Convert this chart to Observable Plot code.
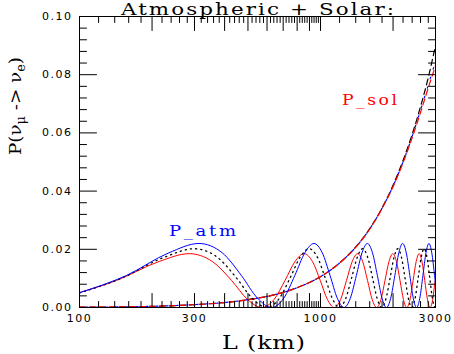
<!DOCTYPE html>
<html>
<head>
<meta charset="utf-8">
<script src="https://cdn.jsdelivr.net/npm/d3@7"></script>
<script src="https://cdn.jsdelivr.net/npm/@observablehq/plot@0.6"></script>
<style>
  html, body { margin: 0; padding: 0; background: #fff; }
  #chart { width: 454px; height: 354px; }
</style>
</head>
<body>
<div id="chart"></div>
<script>
// ---- Data ----
// Atmospheric oscillation curves, three parameter choices (red solid, black dotted, blue solid)
const redL = [100, 142.5, 214, 285, 356, 427.5, 499, 570,
  641, 712.5, 784, 855, 926, 997.5, 1069, 1140,
  1211, 1282, 1354, 1425, 1496, 1567, 1639, 1710,
  1781, 1852, 1924, 1995, 2066, 2137, 2209, 2280,
  2351, 2422, 2494, 2565, 2636, 2707, 2779, 2850,
  2921, 2992, 3000];
const redP = [0.0051, 0.0093, 0.0158, 0.0185, 0.0158, 0.0093, 0.0027, 0,
  0.0027, 0.0093, 0.0158, 0.0185, 0.0158, 0.0093, 0.0027, 0,
  0.0027, 0.0093, 0.0158, 0.0185, 0.0158, 0.0093, 0.0027, 0,
  0.0027, 0.0093, 0.0158, 0.0185, 0.0158, 0.0093, 0.0027, 0,
  0.0027, 0.0093, 0.0158, 0.0185, 0.0158, 0.0093, 0.0027, 0,
  0.0027, 0.0093, 0.0098];

const dotL = [100, 149.5, 224, 299, 374, 448.5, 523, 598,
  673, 747.5, 822, 897, 972, 1046.5, 1121, 1196,
  1271, 1345.5, 1420, 1495, 1570, 1644.5, 1719, 1794,
  1869, 1943.5, 2018, 2093, 2168, 2242.5, 2317, 2392,
  2467, 2541.5, 2616, 2691, 2766, 2840.5, 2915, 2990,
  3000];
const dotP = [0.0050, 0.0101, 0.0172, 0.0202, 0.0172, 0.0101, 0.0030, 0,
  0.0030, 0.0101, 0.0172, 0.0202, 0.0172, 0.0101, 0.0030, 0,
  0.0030, 0.0101, 0.0172, 0.0202, 0.0172, 0.0101, 0.0030, 0,
  0.0030, 0.0101, 0.0172, 0.0202, 0.0172, 0.0101, 0.0030, 0,
  0.0030, 0.0101, 0.0172, 0.0202, 0.0172, 0.0101, 0.0030, 0,
  0.0001];

const blueL = [100, 156.5, 235, 313, 391, 469.5, 548, 626,
  704, 782.5, 861, 939, 1017, 1095.5, 1174, 1252,
  1330, 1408.5, 1487, 1565, 1643, 1721.5, 1800, 1878,
  1956, 2034.5, 2113, 2191, 2269, 2347.5, 2426, 2504,
  2582, 2660.5, 2739, 2817, 2895, 2973.5, 3000];
const blueP = [0.0051, 0.0110, 0.0188, 0.0220, 0.0188, 0.0110, 0.0032, 0,
  0.0032, 0.0110, 0.0188, 0.0220, 0.0188, 0.0110, 0.0032, 0,
  0.0032, 0.0110, 0.0188, 0.0220, 0.0188, 0.0110, 0.0032, 0,
  0.0032, 0.0110, 0.0188, 0.0220, 0.0188, 0.0110, 0.0032, 0,
  0.0032, 0.0110, 0.0188, 0.0220, 0.0188, 0.0110, 0.0081];

// Solar curves (dashed black, dashed red, dotted blue)
const solL = [100, 200, 300, 400, 500, 600, 700, 800, 900, 1000,
  1200, 1400, 1600, 1800, 2000, 2200, 2400, 2600, 2800, 3000];
const solBlackP = [0.0001, 0.0004, 0.0010, 0.0017, 0.0027, 0.0038, 0.0052, 0.0068, 0.0086, 0.0106,
  0.0153, 0.0208, 0.0271, 0.0342, 0.0420, 0.0505, 0.0595, 0.0690, 0.0790, 0.0900];
const solRedP = [0.0001, 0.0004, 0.0010, 0.0017, 0.0027, 0.0038, 0.0052, 0.0068, 0.0086, 0.0106,
  0.0153, 0.0207, 0.0269, 0.0340, 0.0415, 0.0497, 0.0583, 0.0670, 0.0755, 0.0830];
const solBlueP = [0.0001, 0.0004, 0.0010, 0.0017, 0.0027, 0.0038, 0.0052, 0.0068, 0.0086, 0.0106,
  0.0153, 0.0207, 0.0270, 0.0341, 0.0417, 0.0500, 0.0588, 0.0678, 0.0765, 0.0845];

// Axis ticks and labels
const xDomain = [100, 3000];
const yDomain = [0, 0.1];
const xTickLabels = [100, 300, 1000, 3000];
const xMajorTicks = [200, 300, 400, 500, 600, 700, 800, 900, 1000, 2000];
const xMinorTicks = [120, 140, 160, 180, 220, 240, 260, 280, 320, 340, 360, 380,
  420, 440, 460, 480, 520, 540, 560, 580, 620, 640, 660, 680, 720, 740, 760, 780,
  820, 840, 860, 880, 920, 940, 960, 980, 1200, 1400, 1600, 1800, 2200, 2400, 2600, 2800];
const yTickLabels = [0, 0.02, 0.04, 0.06, 0.08, 0.10];
const yMajorTicks = [0.02, 0.04, 0.06, 0.08];
const yMinorTicks = [0.004, 0.008, 0.012, 0.016, 0.024, 0.028, 0.032, 0.036,
  0.044, 0.048, 0.052, 0.056, 0.064, 0.068, 0.072, 0.076, 0.084, 0.088, 0.092, 0.096];

const titleText = "Atmospheric + Solar:";
const xLabelText = "L (km)";
const yLabelText = "P(nu_mu -> nu_e)";
const atmLabel = {L: 324, P: 0.0246, text: "P_atm"};
const solLabel = {L: 1597, P: 0.0697, text: "P_sol"};

// ---- Build tables ----
const zip = (L, P) => L.map((l, i) => ({L: l, P: P[i]}));
const red = zip(redL, redP), dot = zip(dotL, dotP), blue = zip(blueL, blueP);
const solBlack = zip(solL, solBlackP), solRed = zip(solL, solRedP), solBlue = zip(solL, solBlueP);

const W = 454, H = 354, mL = 79, mR = 19, mT = 16, mB = 47;
const pw = W - mL - mR, ph = H - mT - mB;
const serif = "DejaVu Serif";

// Inward tick segments (pixel lengths converted to scale units), drawn as Plot lines
const yPerPx = (yDomain[1] - yDomain[0]) / ph;
const xFac = px => Math.pow(xDomain[1] / xDomain[0], px / pw);
const tickSeg = [];
function addX(vals, px, tag) {
  vals.forEach((v, i) => {
    tickSeg.push({id: tag + "b" + i, x: v, y: yDomain[0]}, {id: tag + "b" + i, x: v, y: yDomain[0] + px * yPerPx});
    tickSeg.push({id: tag + "t" + i, x: v, y: yDomain[1]}, {id: tag + "t" + i, x: v, y: yDomain[1] - px * yPerPx});
  });
}
function addY(vals, px, tag) {
  vals.forEach((v, i) => {
    tickSeg.push({id: tag + "l" + i, x: xDomain[0], y: v}, {id: tag + "l" + i, x: xDomain[0] * xFac(px), y: v});
    tickSeg.push({id: tag + "r" + i, x: xDomain[1], y: v}, {id: tag + "r" + i, x: xDomain[1] / xFac(px), y: v});
  });
}
addX(xMajorTicks, 14, "xM"); addX(xMinorTicks, 6, "xm");
addY(yMajorTicks, 17, "yM"); addY(yMinorTicks, 7, "ym");

const svg = Plot.plot({
  width: W, height: H,
  marginLeft: mL, marginRight: mR, marginTop: mT, marginBottom: mB,
  x: {type: "log", domain: xDomain},
  y: {domain: yDomain},
  style: {fontFamily: "DejaVu Sans", fontSize: "11px", background: "#fff", color: "#000"},
  marks: [
    Plot.axisX({ticks: xTickLabels, tickFormat: d => String(d), tickSize: 0, tickPadding: 7, label: null}),
    Plot.axisY({ticks: yTickLabels, tickFormat: d => d.toFixed(2), tickSize: 0, tickPadding: 7, label: null}),
    // solar curves
    Plot.line(solBlack, {x: "L", y: "P", stroke: "#000", strokeWidth: 1.2, strokeDasharray: "6,4", curve: "monotone-x", clip: true}),
    Plot.line(solRed, {x: "L", y: "P", stroke: "red", strokeWidth: 1.2, strokeDasharray: "6,4", curve: "monotone-x", clip: true}),
    Plot.line(solBlue, {x: "L", y: "P", stroke: "blue", strokeWidth: 1.2, strokeDasharray: "1.5,8.5", strokeDashoffset: -7, curve: "monotone-x", clip: true}),
    // atmospheric curves
    Plot.line(red, {x: "L", y: "P", stroke: "red", strokeWidth: 1, curve: "monotone-x", clip: true}),
    Plot.line(dot, {x: "L", y: "P", stroke: "#000", strokeWidth: 1.3, strokeDasharray: "1.2,4", curve: "monotone-x", clip: true}),
    Plot.line(blue, {x: "L", y: "P", stroke: "blue", strokeWidth: 1, curve: "monotone-x", clip: true}),
    // inward ticks on all four sides
    Plot.line(tickSeg, {x: "x", y: "y", z: "id", stroke: "#000", strokeWidth: 1, curve: "linear", clip: true}),
    Plot.frame(),
    // labels
    Plot.text([atmLabel], {x: "L", y: "P", text: "text", fill: "blue", fontFamily: serif, fontSize: 15}),
    Plot.text([solLabel], {x: "L", y: "P", text: "text", fill: "red", fontFamily: serif, fontSize: 15}),
    Plot.text([titleText], {frameAnchor: "top", lineAnchor: "bottom", dy: -2, fontFamily: serif, fontSize: 16.5, fill: "#000"}),
    Plot.text([xLabelText], {frameAnchor: "bottom", lineAnchor: "bottom", dy: 41, dx: 6, fontFamily: serif, fontSize: 19, fill: "#000"}),
    Plot.text([yLabelText], {frameAnchor: "left", lineAnchor: "bottom", rotate: -90, dx: -59, dy: -7, fontFamily: serif, fontSize: 17, fill: "#000"})
  ]
});

document.getElementById("chart").appendChild(svg);

// ---- Rich text for the y label ----
d3.select(svg).selectAll("text").filter(function () { return this.textContent === yLabelText; }).each(function () {
  const el = d3.select(this);
  el.text(null);
  el.append("tspan").text("P(\u03bd");
  el.append("tspan").attr("dy", 4).attr("font-size", 12).text("\u03bc");
  el.append("tspan").attr("dy", -4).text(" -> \u03bd");
  el.append("tspan").attr("dy", 4).attr("font-size", 12).text("e");
  el.append("tspan").attr("dy", -4).text(")");
});

// ---- Widen text to the reference's wide lettering ----
function widen(el, target, maxScale) {
  const w = el.getComputedTextLength();
  if (!w) return;
  const s = Math.min(maxScale, target / w);
  let tr = el.getAttribute("transform") || "";
  if (el.hasAttribute("x") || el.hasAttribute("y")) {
    const x = +el.getAttribute("x") || 0, y = +el.getAttribute("y") || 0;
    el.removeAttribute("x"); el.removeAttribute("y");
    tr = `${tr} translate(${x},${y})`;
  }
  el.setAttribute("transform", `${tr} scale(${s},1)`);
  el.setAttribute("textLength", target / s);
  el.setAttribute("lengthAdjust", "spacing");
}
const targets = {"Atmospheric + Solar:": [273, 1.3], "L (km)": [83, 1.25], "P_atm": [67, 1.2], "P_sol": [55, 1.15]};
d3.select(svg).selectAll("text").each(function () {
  const t = this.textContent;
  if (targets[t]) widen(this, targets[t][0], targets[t][1]);
  else if (t === "P(\u03bd\u03bc -> \u03bde)") widen(this, 98, 1.15);
});
d3.select(svg).selectAll('g[aria-label="x-axis tick label"] text, g[aria-label="y-axis tick label"] text')
  .style("letter-spacing", "1.5px");
</script>
</body>
</html>
